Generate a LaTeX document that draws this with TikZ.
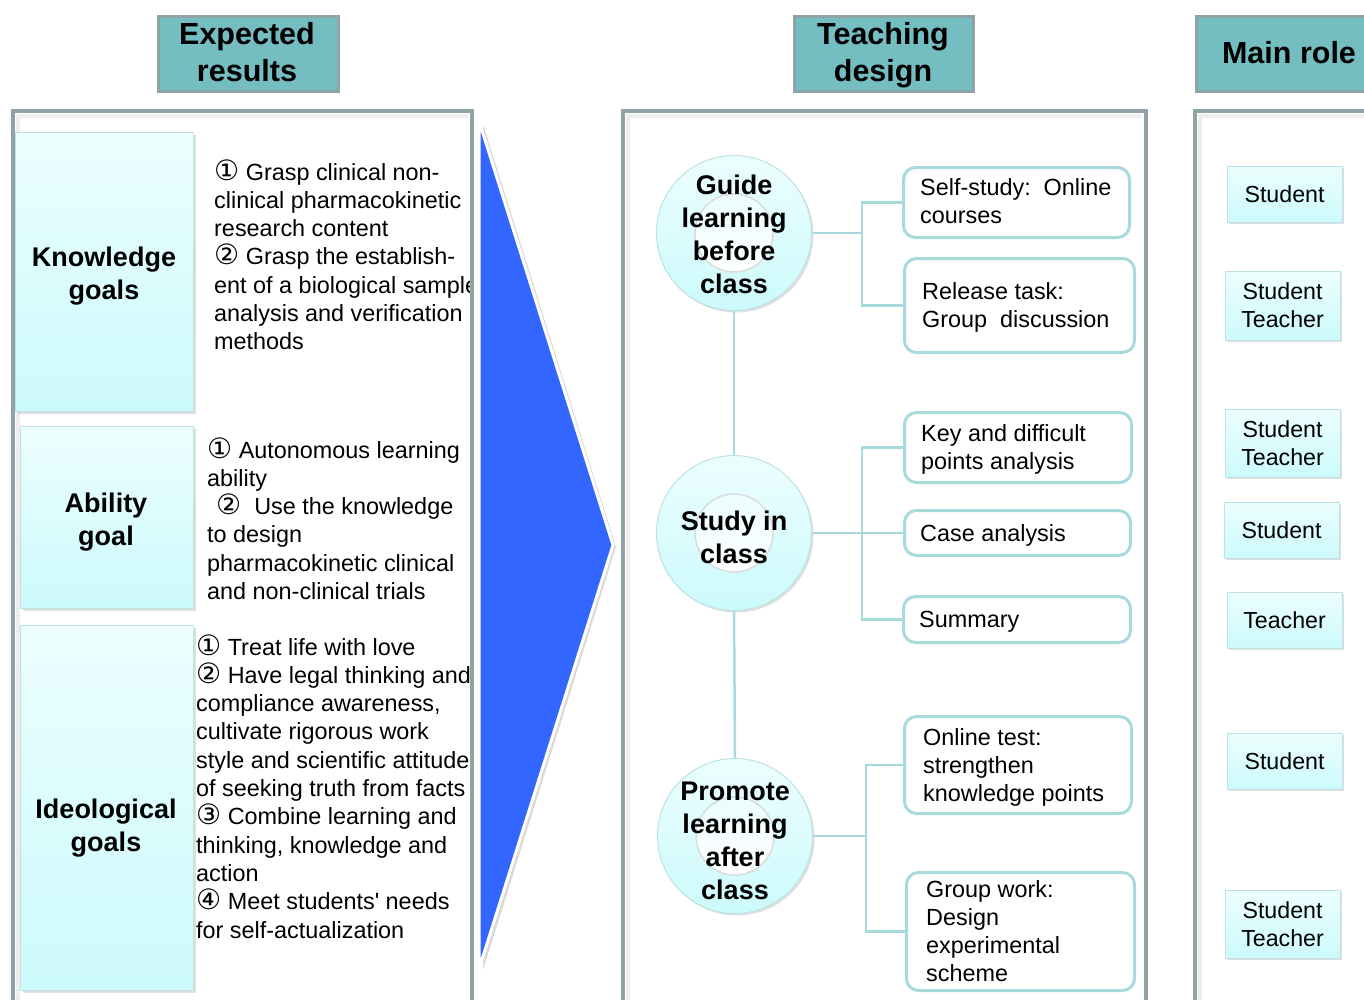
\documentclass[tikz,border=0pt]{standalone}
\usepackage{fontspec}
\setmainfont{Liberation Sans}
\newfontfamily\cfont{DejaVu Sans}
\usetikzlibrary{shadows}
\definecolor{panelc}{RGB}{144,164,167}
\definecolor{headc}{RGB}{116,189,193}
\definecolor{linkc}{RGB}{168,218,221}
\definecolor{celltop}{RGB}{236,254,254}
\definecolor{cellbot}{RGB}{204,250,252}
\definecolor{cellborder}{RGB}{190,226,228}
\definecolor{triblue}{RGB}{51,102,255}
\newcommand\blockL[1]{\vtop{\halign{##\hfil\cr#1\crcr}}}
\newcommand\blockC[1]{\vtop{\halign{\hfil##\hfil\cr#1\crcr}}}
\newcommand\cn[1]{{\cfont\fontsize{28}{28}\selectfont #1}}
\begin{document}
\begin{tikzpicture}[x=1pt,y=-1pt,
  panel/.style={draw=panelc, line width=4pt, fill=white},
  header/.style={draw=panelc, line width=3pt, fill=headc, inner sep=0, anchor=north west},
  htext/.style={font=\fontsize{30.5}{37}\selectfont\bfseries, inner sep=0, anchor=base},
  cell/.style={draw=cellborder, line width=1pt, top color=celltop, bottom color=cellbot,
    drop shadow={shadow xshift=2pt, shadow yshift=-2pt, opacity=0.25}, inner sep=0},
  lbl/.style={font=\fontsize{27}{33}\selectfont\bfseries, inner sep=0, anchor=base},
  body/.style={font=\fontsize{23.4}{28.3}\selectfont, inner sep=0, anchor=base west},
  ring/.style={circle, minimum size=155pt, inner sep=0, draw=cellborder, line width=1pt,
    top color=celltop, bottom color=cellbot, drop shadow={shadow xshift=2pt, shadow yshift=-2pt, opacity=0.25}},
  hole/.style={circle, minimum size=78pt, inner sep=0, draw=gray!28, line width=1.5pt,
    top color=cellbot!40!white, bottom color=white},
  tbox/.style={draw=linkc, line width=3pt, rounded corners=12pt, fill=white, inner sep=0, anchor=north west},
  link/.style={draw=linkc, line width=2.5pt},
  role/.style={cell, minimum width=115pt, align=center, font=\fontsize{23.2}{28}\selectfont}
]
\useasboundingbox (0,0) rectangle (1364,999);
\clip (0,0) rectangle (1364,999);
\fill[white] (0,0) rectangle (1364,999);

% ---------- headers ----------
\node[header, minimum width=180pt, minimum height=75pt] (h1) at (157,15) {};
\node[htext] at (247,44) {Expected};
\node[htext] at (247,81) {results};
\node[header, minimum width=179pt, minimum height=75pt] (h2) at (793,15) {};
\node[htext] at (883,44) {Teaching};
\node[htext] at (883,81) {design};
\node[header, minimum width=190pt, minimum height=75pt] (h3) at (1195,15) {};
\node[htext] at (1289,63) {Main role};

% ---------- panels ----------
\draw[panel] (13,111) rectangle (472,1030);
\draw[gray!14, line width=4pt] (17.5,1030) |- (468,115.5);
\draw[panel] (623,111) rectangle (1146,1030);
\draw[gray!14, line width=4pt] (627.5,1030) |- (1142,115.5);
\draw[panel] (1195,111) rectangle (1390,1030);
\draw[gray!14, line width=4pt] (1199.5,1030) |- (1390,115.5);

% ---------- left column ----------
\node[cell, anchor=north west, minimum width=178pt, minimum height=279pt] (kg) at (15,132) {};
\node[lbl] at (104,266) {\blockC{Knowledge\cr goals}};
\begin{scope}
\clip (13,111) rectangle (473,1030);
\node[body] at (214,180) {\blockL{\cn{①} Grasp clinical non-\cr
clinical pharmacokinetic\cr
research content\cr
\cn{②} Grasp the establish-\cr
ent of a biological sample\cr
analysis and verification\cr
methods}};
\end{scope}

\node[cell, anchor=north west, minimum width=173pt, minimum height=182pt] (ag) at (20,426) {};
\node[lbl] at (106,512) {\blockC{Ability\cr goal}};
\node[body] at (207,458) {\blockL{\cn{①} Autonomous learning\cr
ability\cr
\kern9pt\cn{②}\ \ Use the knowledge\cr
to design\cr
pharmacokinetic clinical\cr
and non-clinical trials}};

\node[cell, anchor=north west, minimum width=173pt, minimum height=365pt] (ig) at (20,625) {};
\node[lbl] at (106,818) {\blockC{Ideological\cr goals}};
\node[body] at (196,655) {\blockL{\cn{①} Treat life with love\cr
\cn{②} Have legal thinking and\cr
compliance awareness,\cr
cultivate rigorous work\cr
style and scientific attitude\cr
of seeking truth from facts\cr
\cn{③} Combine learning and\cr
thinking, knowledge and\cr
action\cr
\cn{④} Meet students\textquotesingle\ needs\cr
for self-actualization}};

% redraw left panel right border over overflowing text
\draw[panelc, line width=4pt] (472,109) -- (472,1030);

% ---------- arrow triangle ----------
\fill[gray!30] (483,124) -- (616,547) -- (483,970) -- cycle;
\filldraw[fill=triblue, draw=white, line width=3pt] (479,121) -- (613,545) -- (479,969) -- cycle;

% ---------- middle column ----------
\node[ring] (c1) at (734,233) {};
\node[hole] at (c1) {};
\node[lbl] at (734,194) {\blockC{Guide\cr learning\cr before\cr class}};

\node[ring] (c2) at (734,533) {};
\node[hole] at (c2) {};
\node[lbl] at (734,530) {\blockC{Study in\cr class}};

\node[ring] (c3) at (735,836) {};
\node[hole] at (c3) {};
\node[lbl] at (735,800) {\blockC{Promote\cr learning\cr after\cr class}};

\node[tbox, minimum width=226pt, minimum height=70pt] (b1) at (902,166) {};
\node[tbox, minimum width=230pt, minimum height=94pt] (b2) at (903,257) {};
\node[tbox, minimum width=227pt, minimum height=70pt] (b3) at (903,411) {};
\node[tbox, minimum width=226pt, minimum height=45pt] (b4) at (903,509) {};
\node[tbox, minimum width=227pt, minimum height=46pt] (b5) at (902,595) {};
\node[tbox, minimum width=227pt, minimum height=97pt] (b6) at (903,715) {};
\node[tbox, minimum width=228pt, minimum height=118pt] (b7) at (905,871) {};

\coordinate (j1) at (862,233);
\coordinate (j2) at (862,533);
\coordinate (j3) at (866,836);
\draw[link] (c1.east) -- (j1);
\draw[link] (j1) |- (b1.west);
\draw[link] (j1) |- (b2.west);
\draw[link] (c2.east) -- (j2);
\draw[link] (j2) |- (b3.west);
\draw[link] (j2) |- (b4.west);
\draw[link] (j2) |- (b5.west);
\draw[link] (c3.east) -- (j3);
\draw[link] (j3) |- (b6.west);
\draw[link] (j3) |- (b7.west);
\draw[link] (c1.south) -- (c2.north);
\draw[link] (c2.south) -- (c3.north);

\node[body] at (920,195) {\blockL{Self-study:\ \ Online\cr courses}};
\node[body] at (922,299) {\blockL{Release task:\cr Group\ \ discussion}};
\node[body] at (921,441) {\blockL{Key and difficult\cr points analysis}};
\node[body] at (920,541) {Case analysis};
\node[body] at (919,627) {Summary};
\node[body] at (923,745) {\blockL{Online test:\cr strengthen\cr knowledge points}};
\node[body] at (926,897) {\blockL{Group work:\cr Design\cr experimental\cr scheme}};

% ---------- right column ----------
\node[role, minimum height=56pt] (r1) at (1284.5,194) {Student};
\node[role, minimum height=69pt] (r2) at (1282.5,305.5) {Student\\Teacher};
\node[role, minimum height=68pt] (r3) at (1282.5,443) {Student\\Teacher};
\node[role, minimum height=56pt] (r4) at (1281.5,530) {Student};
\node[role, minimum height=56pt] (r5) at (1284.5,620) {Teacher};
\node[role, minimum height=56pt] (r6) at (1284.5,761) {Student};
\node[role, minimum height=68pt] (r7) at (1282.5,924) {Student\\Teacher};
\end{tikzpicture}
\end{document}
